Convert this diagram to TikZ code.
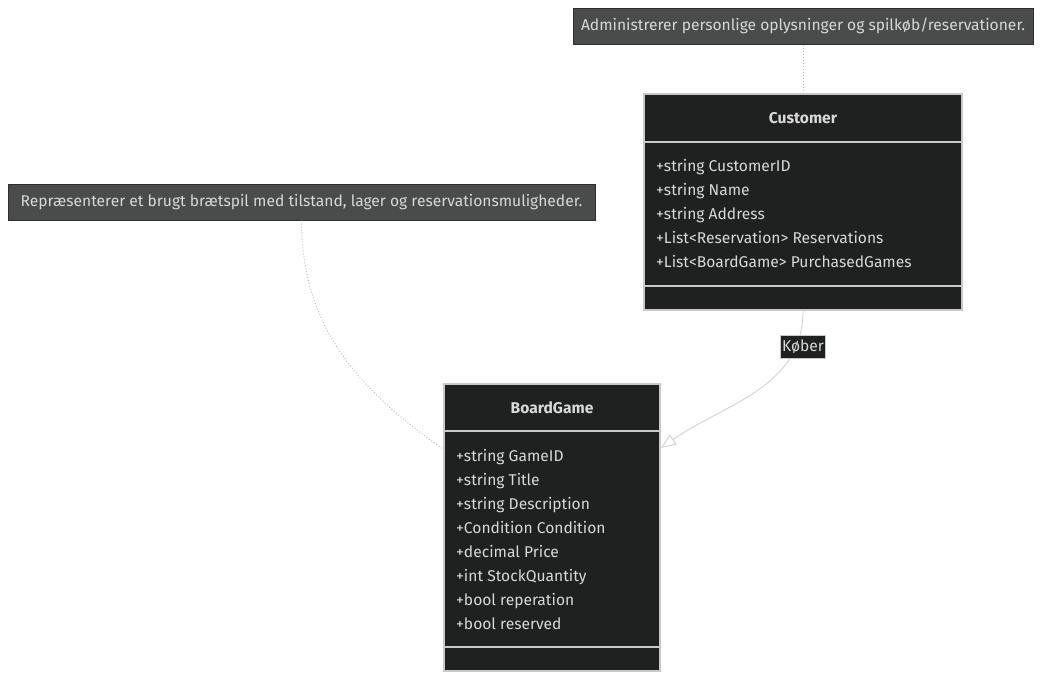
\documentclass[tikz,border=0pt]{standalone}
\usepackage{fontspec}
\setmainfont{Fira Sans}
\usetikzlibrary{positioning,arrows.meta}
\definecolor{boxfill}{HTML}{1F2020}
\definecolor{boxline}{HTML}{C8C8C8}
\definecolor{notefill}{HTML}{4A4B4B}
\definecolor{noteline}{HTML}{2E2E2E}
\definecolor{textgrey}{HTML}{D8D8D8}
\definecolor{edgegrey}{HTML}{D3D3D3}
\definecolor{linkgrey}{HTML}{BDBDBD}

\begin{document}
\begin{tikzpicture}[x=1pt,y=1pt,
  font=\fontsize{15.6}{18}\selectfont,
  classbox/.style={draw=boxline,line width=1.2pt,fill=boxfill,inner sep=0pt},
  notebox/.style={draw=noteline,line width=1pt,fill=notefill,text=textgrey,inner sep=0pt},
  classtitle/.style={text=textgrey,font=\fontsize{15.6}{18}\selectfont\bfseries},
  attr/.style={text=textgrey,anchor=base west,inner sep=0pt},
  sepline/.style={draw=boxline,line width=1.2pt},
  notelink/.style={draw=linkgrey,dotted,line width=1pt},
  relation/.style={draw=edgegrey,line width=0.9pt},
  relabel/.style={fill=boxfill,draw=boxline,line width=0.4pt,text=textgrey,inner sep=0pt,
    minimum width=45,minimum height=23}]
  \useasboundingbox (0,0) rectangle (1041,-680);

  % notes
  \node (custnote) [notebox,minimum width=460,minimum height=36] at (803,-26) {Administrerer personlige oplysninger og spilkøb/reservationer.};
  \node (gamenote) [notebox,minimum width=587,minimum height=36] at (301.5,-202) {Repræsenterer et brugt brætspil med tilstand, lager og reservationsmuligheder.};

  % Customer
  \node (customer) [classbox,minimum width=318,minimum height=216] at (803,-202) {};
  \node (custtitle) [classtitle] at (803,-118) {Customer};
  \draw[sepline] (644,-142) -- (962,-142);
  \draw[sepline] (644,-286) -- (962,-286);
  \foreach \txt [count=\i] in {+string CustomerID,+string Name,+string Address,%
      +List<Reservation> Reservations,+List<BoardGame> PurchasedGames}
    \node (custattr\i) [attr] at (656,-147-24*\i) {\txt};

  % BoardGame
  \node (boardgame) [classbox,minimum width=216,minimum height=287] at (552,-527.5) {};
  \node (gametitle) [classtitle] at (552,-408) {BoardGame};
  \draw[sepline] (444,-431) -- (660,-431);
  \draw[sepline] (444,-647) -- (660,-647);
  \foreach \txt [count=\i] in {+string GameID,+string Title,+string Description,%
      +Condition Condition,+decimal Price,+int StockQuantity,+bool reperation,+bool reserved}
    \node (gameattr\i) [attr] at (456,-437-24*\i) {\txt};

  % links
  \coordinate (gameleft) at (443,-449);
  \coordinate (gameright) at (661,-448);
  \draw[notelink] (custnote.south) -- (customer.north);
  \draw[notelink] (gamenote.south) to[out=-90,in=145] (gameleft);
  \draw[relation,-{Triangle[open,length=15pt,width=12pt,fill=white]}]
    (customer.south) to[out=-90,in=35] (gameright);
  \node (kober) [relabel] at (803,-347) {Køber};
\end{tikzpicture}
\end{document}
